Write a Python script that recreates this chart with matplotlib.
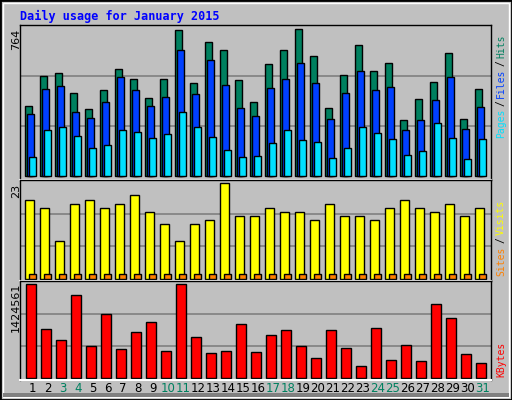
import numpy as np
import matplotlib.pyplot as plt
from matplotlib.patches import Rectangle

days = np.arange(1, 32)
weekend = [3, 4, 10, 11, 17, 18, 24, 25, 31]
hits = [364, 520, 536, 432, 348, 447, 556, 504, 406, 504, 759, 484, 697, 655, 499, 385,
        582, 655, 764, 624, 354, 525, 681, 546, 588, 291, 400, 489, 640, 296, 452]
files = [322, 452, 468, 333, 302, 385, 515, 447, 364, 411, 655, 426, 603, 473, 354, 312,
         458, 504, 588, 484, 296, 432, 546, 447, 463, 239, 291, 395, 515, 244, 359]
pages = [99, 239, 255, 208, 146, 161, 239, 229, 198, 218, 333, 255, 203, 135, 99, 104,
         172, 239, 187, 177, 94, 146, 255, 224, 192, 109, 130, 276, 198, 88, 192]
visits = [19, 17, 9, 18, 19, 17, 18, 20, 16, 13, 9, 13, 14, 23, 15, 15,
          17, 16, 16, 14, 18, 15, 15, 14, 17, 19, 17, 16, 18, 15, 17]
sites = [1] * 31
kbytes = [1424561, 735000, 579000, 1252000, 485000, 970000, 438000, 689000, 845000, 407000,
          1424561, 611000, 376000, 407000, 814000, 391000, 642000, 720000, 485000, 297000,
          720000, 454000, 172000, 751000, 266000, 501000, 250000, 1111000, 908000, 360000, 219000]

BG = '#C0C0C0'
W, H = 512, 400
fig = plt.figure(figsize=(5.12, 4.0), dpi=100, facecolor=BG)


def px_axes(x, y, w, h):
    return fig.add_axes([x / W, 1 - (y + h) / H, w / W, h / H])


def fx(x):
    return x / W


def fy(y):
    return 1 - y / H


u = 1 / 15.0  # one pixel in day units
xlim = (1 - 5.3 * u, 1 - 5.3 * u + 471 * u)

panels = [
    (px_axes(20, 25, 471, 155), max(hits)),
    (px_axes(20, 180, 471, 101), max(visits)),
    (px_axes(20, 281, 471, 99), max(kbytes)),
]
for ax, top in panels:
    ax.set_facecolor(BG)
    ax.set_xlim(*xlim)
    ax.set_ylim(-top * 0.025, top * 1.03)
    ax.set_xticks([])
    ax.set_yticks([])
    for a in (1 / 3, 2 / 3):
        ax.axhline(top * a * 1.02, color='#808080', lw=1.2, zorder=0)
    for s in ax.spines.values():
        s.set_color('black')
        s.set_linewidth(1)
    ax.spines['bottom'].set_color('white')
    ax.spines['bottom'].set_linewidth(1.5)

ax1, ax2, ax3 = [p[0] for p in panels]
kw = dict(align='edge', edgecolor='black', linewidth=1)
ax1.bar(days, hits, width=7 * u, color='#00805F', **kw)
ax1.bar(days + 2 * u, files, width=7 * u, color='#0040FF', **kw)
ax1.bar(days + 4 * u, pages, width=7 * u, color='#00E0FF', **kw)
ax2.bar(days, visits, width=8.4 * u, color='#FFFF00', **kw)
ax2.bar(days + 4 * u, sites, width=7 * u, color='#FF8000', **kw)
ax3.bar(days + 1 * u, kbytes, width=10 * u, color='#FF0000', **kw)

# day labels
for d in days:
    c = '#00805F' if d in weekend else 'black'
    fig.text(fx(20 + (d - xlim[0]) * 15 + 7.5), fy(388), str(d), ha='center', va='center',
             fontsize=8.5, color=c)

# max value labels
for txt, y in [('764', 29), ('23', 184), ('1424561', 283)]:
    fig.text(fx(16), fy(y), txt, rotation=90, ha='center', va='top', fontsize=8)

fig.text(fx(20), fy(16), 'Daily usage for January 2015', fontsize=8.5, color='#0000FF',
         fontweight='bold', family='DejaVu Sans Mono', va='center')

mono = dict(rotation=90, ha='center', va='bottom', fontsize=7, family='DejaVu Sans Mono')
for txt, y, c in [('Pages', 138, '#00E0FF'), ('/', 106, 'black'), ('Files', 98, '#0040FF'),
                  ('/', 66, 'black'), ('Hits', 58, '#00805F'),
                  ('Sites', 276, '#FF8000'), ('/', 243, 'black'), ('Visits', 235, '#FFFF00'),
                  ('KBytes', 377, '#FF0000')]:
    fig.text(fx(501), fy(y), txt, color=c, **mono)

# outer 3D-ish border
fig.add_artist(Rectangle((0, 0), 1, 1, transform=fig.transFigure, fill=False,
                         edgecolor='black', lw=2))
fig.add_artist(Rectangle((fx(3), fy(397)), fx(506), 394 / H, transform=fig.transFigure,
                         fill=False, edgecolor='white', lw=1))
fig.add_artist(Rectangle((fx(3), fy(397)), fx(506), 4 / H, transform=fig.transFigure,
                         facecolor='#808080', edgecolor='none'))

fig.savefig('out.png', dpi=100, facecolor=BG)
